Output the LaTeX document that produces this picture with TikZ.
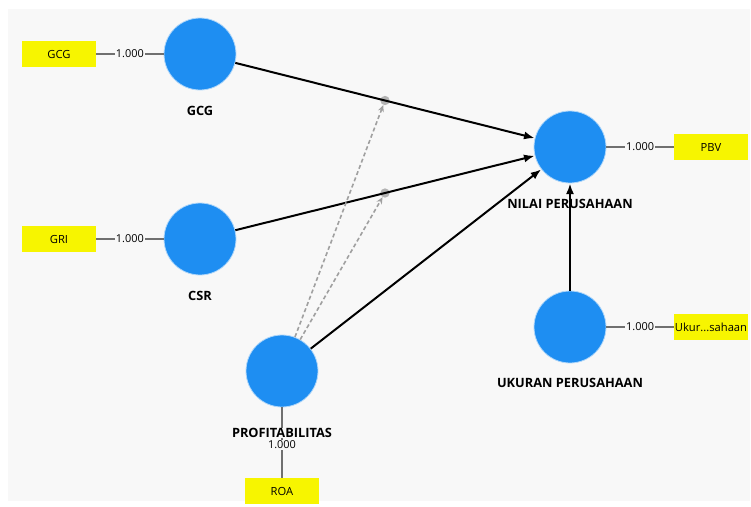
\documentclass[tikz,border=0pt]{standalone}
\usepackage{fontspec}
\setmainfont{Open Sans}
\usetikzlibrary{positioning,arrows.meta}

\definecolor{latentblue}{HTML}{1E8EF2}
\definecolor{indyellow}{HTML}{F7F500}
\definecolor{canvasgrey}{HTML}{F8F8F8}
\definecolor{loadgrey}{HTML}{707070}
\definecolor{modgrey}{HTML}{A0A0A0}

\begin{document}
\begin{tikzpicture}[x=0.75pt,y=-0.75pt,node distance=105.75pt,on grid,
	latent/.style={circle,fill=latentblue,draw=latentblue!35,line width=0.6pt,minimum size=54pt,inner sep=0pt},
	indicator/.style={fill=indyellow,minimum width=55.5pt,minimum height=19.5pt,inner sep=1pt,font=\fontsize{8.4}{9}\selectfont},
	lvname/.style={fill=canvasgrey,inner sep=0.5pt,font=\bfseries\fontsize{9.6}{11}\selectfont},
	loading/.style={draw=loadgrey,line width=1pt},
	weight/.style={fill=canvasgrey,inner sep=1pt,font=\fontsize{8.2}{9}\selectfont},
	effect/.style={draw=black,line width=1.5pt,-{Latex[length=8pt,width=6pt]}},
	moddot/.style={circle,fill=modgrey!80,minimum size=7pt,inner sep=0pt},
	modeffect/.style={draw=modgrey,line width=1.2pt,dash pattern=on 3pt off 2pt,-{Stealth[length=5pt,width=4.5pt]}}]

	% canvas
	\useasboundingbox[fill=white] (0,0) rectangle (751,507);
	\fill[canvasgrey] (8,9) rectangle (750,501);

	% latent variables
	\node[latent] (gcg) at (200,54) {};
	\node[latent] (csr) at (200,239) {};
	\node[latent] (prof) at (282,371) {};
	\node[latent] (nilai) at (570,147) {};
	\node[latent] (ukuran) at (570,327) {};

	% indicators
	\node[indicator] (gcgind) [left=of gcg] {GCG};
	\node[indicator] (gri) [left=of csr] {GRI};
	\node[indicator] (roa) [below=90pt of prof] {ROA};
	\node[indicator] (pbv) [right=of nilai] {PBV};
	\node[indicator,inner sep=0pt] (ukurind) [right=of ukuran] {Ukur...sahaan};

	% outer loadings
	\draw[loading] (gcgind) -- node[weight] {1.000} (gcg);
	\draw[loading] (gri) -- node[weight] {1.000} (csr);
	\draw[loading] (nilai) -- node[weight] {1.000} (pbv);
	\draw[loading] (ukuran) -- node[weight] {1.000} (ukurind);

	% names
	\node[lvname] (gcglbl) [below=43pt of gcg] {GCG};
	\node[lvname] (csrlbl) [below=43pt of csr] {CSR};
	\node[lvname] (nilailbl) [below=43pt of nilai] {NILAI PERUSAHAAN};
	\node[lvname] (ukuranlbl) [below=42pt of ukuran] {UKURAN PERUSAHAAN};
	\draw[loading] (prof) -- (roa);
	\node[lvname] (proflbl) [below=46.5pt of prof] {PROFITABILITAS};
	\node[weight] (roaw) [below=55.5pt of prof] {1.000};

	% inner model
	\path (gcg) -- node[moddot] (modgcg) {} (nilai);
	\path (csr) -- node[moddot] (modcsr) {} (nilai);
	\draw[effect] (gcg) -- (nilai);
	\draw[effect] (csr) -- (nilai);
	\draw[effect] (prof) -- (nilai);
	\draw[effect] (ukuran) -- (nilai);
	\draw[modeffect] (prof) -- (modgcg);
	\draw[modeffect] (prof) -- (modcsr);
\end{tikzpicture}
\end{document}
